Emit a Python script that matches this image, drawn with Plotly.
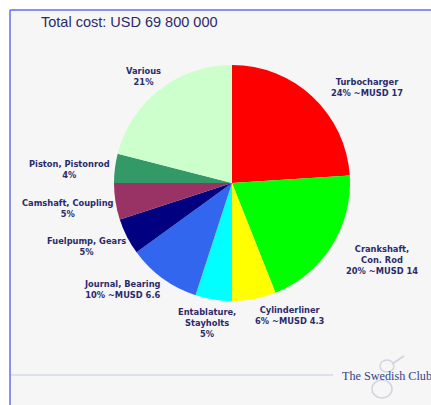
import plotly.graph_objects as go

# ---- data ----
parts = ["Turbocharger", "Crankshaft,<br>Con. Rod", "Cylinderliner", "Entablature,<br>Stayholts",
         "Journal, Bearing", "Fuelpump, Gears", "Camshaft, Coupling", "Piston, Pistonrod", "Various"]
shares = [24, 20, 6, 5, 10, 5, 5, 4, 21]
musd = [17, 14, 4.3, None, 6.6, None, None, None, None]
colors = ["#FF0000", "#00FF00", "#FFFF00", "#00FFFF", "#3366EE", "#000080", "#993366", "#339966", "#CCFFCC"]
title_text = "Total cost: USD 69 800 000"
logo_text = "The Swedish Club"

W, H = 431, 405
def px(x):
    return x / W
def py(y):
    return 1 - y / H

# pie geometry (pixels)
cx, cy, r = 232, 183, 118

# label centres (pixels) - layout only
label_pos = [(367, 88), (382, 260), (290, 315), (207, 323), (123, 289),
             (86, 246), (68, 208), (69, 169), (143, 76)]

fig = go.Figure()
fig.add_trace(go.Pie(
    labels=parts, values=shares, marker=dict(colors=colors, line=dict(width=0)),
    sort=False, direction="clockwise", rotation=0, textinfo="none",
    hoverinfo="label+percent", showlegend=False,
    domain=dict(x=[px(cx - r), px(cx + r)], y=[py(cy + r), py(cy - r)]),
))

annotations = []
for name, s, m, (lx, ly) in zip(parts, shares, musd, label_pos):
    t = f"{name}<br>{s}%" + (f" ~MUSD {m}" if m is not None else "")
    annotations.append(dict(
        x=px(lx), y=py(ly), xref="paper", yref="paper", text=t, showarrow=False,
        font=dict(family="DejaVu Sans", size=8.3, color="#2B2B6B", weight="bold"),
        align="center", xanchor="center", yanchor="middle"))

annotations.append(dict(
    x=px(39), y=py(22), xref="paper", yref="paper", text=title_text, showarrow=False,
    font=dict(family="Liberation Sans", size=14.5, color="#2A2A6A"),
    xanchor="left", yanchor="middle"))
annotations.append(dict(
    x=px(340), y=py(376), xref="paper", yref="paper", text=logo_text, showarrow=False,
    font=dict(family="Liberation Serif", size=12.2, color="#34448C"),
    xanchor="left", yanchor="middle"))

logo_col = "#D2D5E0"
shapes = [
    dict(type="rect", xref="paper", yref="paper", x0=px(10), x1=px(W + 5), y0=py(H + 5), y1=py(10),
         fillcolor="#F6F6F6", line=dict(width=0), layer="below"),
    dict(type="line", xref="paper", yref="paper", x0=px(10), x1=px(10), y0=py(10), y1=py(H + 5),
         line=dict(color="#6A6AEA", width=1.5), layer="below"),
    dict(type="line", xref="paper", yref="paper", x0=px(10), x1=px(W + 5), y0=py(10), y1=py(10),
         line=dict(color="#6A6AEA", width=1.5), layer="below"),
    dict(type="line", xref="paper", yref="paper", x0=px(11), x1=px(333), y0=py(375), y1=py(375),
         line=dict(color="#C5CAE6", width=1), layer="below"),
    # faint logo figure
    dict(type="circle", xref="paper", yref="paper", x0=px(372), x1=px(392), y0=py(398), y1=py(380),
         line=dict(color=logo_col, width=1.5), layer="below"),
    dict(type="circle", xref="paper", yref="paper", x0=px(380), x1=px(394), y0=py(372), y1=py(360),
         line=dict(color=logo_col, width=1.5), layer="below"),
    dict(type="line", xref="paper", yref="paper", x0=px(392), x1=px(404), y0=py(364), y1=py(356),
         line=dict(color=logo_col, width=2), layer="below"),
]

fig.update_layout(
    width=W, height=H, margin=dict(l=0, r=0, t=0, b=0),
    paper_bgcolor="white", plot_bgcolor="white",
    annotations=annotations, shapes=shapes,
)
fig.write_html("out.html")
